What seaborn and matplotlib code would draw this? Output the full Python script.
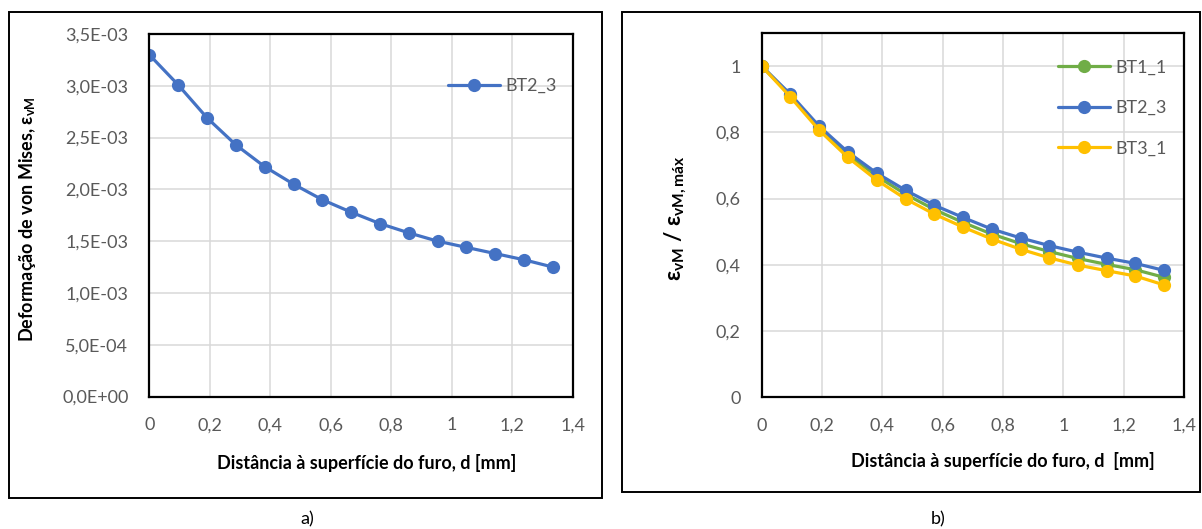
import matplotlib
matplotlib.use("Agg")
import matplotlib.pyplot as plt
import seaborn as sns
import pandas as pd
from matplotlib.patches import Rectangle
from matplotlib.ticker import FixedLocator, FixedFormatter

# ---------------- data ----------------
d_mm = [0.0, 0.095, 0.191, 0.286, 0.381, 0.477, 0.572, 0.667, 0.762,
        0.858, 0.953, 1.048, 1.144, 1.239, 1.334]

evm_bt2_3 = [3.30e-3, 3.01e-3, 2.69e-3, 2.43e-3, 2.22e-3, 2.05e-3, 1.90e-3,
             1.78e-3, 1.67e-3, 1.58e-3, 1.50e-3, 1.44e-3, 1.38e-3, 1.32e-3,
             1.25e-3]

norm_bt1_1 = [1.0, 0.912, 0.813, 0.733, 0.668, 0.613, 0.567, 0.528, 0.493,
              0.464, 0.440, 0.419, 0.401, 0.385, 0.362]
norm_bt2_3 = [1.0, 0.915, 0.818, 0.740, 0.677, 0.625, 0.580, 0.543, 0.508,
              0.481, 0.458, 0.438, 0.420, 0.404, 0.383]
norm_bt3_1 = [1.0, 0.907, 0.806, 0.724, 0.656, 0.599, 0.553, 0.514, 0.478,
              0.447, 0.421, 0.399, 0.382, 0.366, 0.339]

series_names = ["BT1_1", "BT2_3", "BT3_1"]
series_colors = ["#70AD47", "#4472C4", "#FFC000"]

x_ticks = [0, 0.2, 0.4, 0.6, 0.8, 1.0, 1.2, 1.4]
x_ticklabels = ["0", "0,2", "0,4", "0,6", "0,8", "1", "1,2", "1,4"]
ya_ticks = [0, 0.5e-3, 1.0e-3, 1.5e-3, 2.0e-3, 2.5e-3, 3.0e-3, 3.5e-3]
ya_ticklabels = ["0,0E+00", "5,0E-04", "1,0E-03", "1,5E-03", "2,0E-03",
                 "2,5E-03", "3,0E-03", "3,5E-03"]
yb_ticks = [0, 0.2, 0.4, 0.6, 0.8, 1.0]
yb_ticklabels = ["0", "0,2", "0,4", "0,6", "0,8", "1"]

# ---------------- style ----------------
sns.set_theme(style="white")
FONT = ["Lato", "DejaVu Sans"]
plt.rcParams["font.family"] = FONT
plt.rcParams["mathtext.fontset"] = "custom"
plt.rcParams["mathtext.rm"] = "Lato"
plt.rcParams["mathtext.bf"] = "Lato:bold"
plt.rcParams["mathtext.it"] = "Lato:italic"

TICK_COLOR = "#595959"
GRID_COLOR = "#D9D9D9"
TICK_FS = 13
LABEL_FS = 13

W, H = 1202, 529
fig = plt.figure(figsize=(W / 100, H / 100), dpi=100)


def px_axes(x0, x1, y0, y1):
    return fig.add_axes([x0 / W, 1 - y1 / H, (x1 - x0) / W, (y1 - y0) / H])


# outer panel frames
fig.patches.append(Rectangle((9 / W, 1 - 498 / H), 593 / W, 486 / H,
                             transform=fig.transFigure, fill=False,
                             edgecolor="black", linewidth=1.4))
fig.patches.append(Rectangle((622 / W, 1 - 492 / H), 578 / W, 480 / H,
                             transform=fig.transFigure, fill=False,
                             edgecolor="black", linewidth=1.4))

ax1 = px_axes(149.3, 572.7, 34, 396.5)
ax2 = px_axes(761.7, 1184, 33, 397.2)


def style_axes(ax, yticks, yticklabels, ylim):
    ax.set_xlim(0, 1.4)
    ax.set_ylim(*ylim)
    ax.xaxis.set_major_locator(FixedLocator(x_ticks))
    ax.xaxis.set_major_formatter(FixedFormatter(x_ticklabels))
    ax.yaxis.set_major_locator(FixedLocator(yticks))
    ax.yaxis.set_major_formatter(FixedFormatter(yticklabels))
    ax.grid(True, color=GRID_COLOR, linewidth=1.1)
    ax.set_axisbelow(True)
    for s in ax.spines.values():
        s.set_visible(True)
        s.set_color("black")
        s.set_linewidth(1.6)
    ax.tick_params(axis="both", length=0, pad=15, labelsize=TICK_FS,
                   labelcolor=TICK_COLOR)


MS = 9.5
LW = 2.3

# ---------------- panel a ----------------
df_a = pd.DataFrame({"d": d_mm, "v": evm_bt2_3, "serie": "BT2_3"})
sns.lineplot(data=df_a, x="d", y="v", hue="serie", palette=["#4472C4"],
             marker="o", markersize=MS, markeredgewidth=0, linewidth=LW,
             estimator=None, sort=False, ax=ax1)
style_axes(ax1, ya_ticks, ya_ticklabels, (0, 3.5e-3))
ax1.set_xlabel("Distância à superfície do furo, d [mm]", fontsize=LABEL_FS,
               fontweight="bold", color="black")
ax1.set_ylabel("Deformação de von Mises, ε$_{\\mathbf{vM}}$", fontsize=LABEL_FS,
               fontweight="bold", color="black")
ax1.xaxis.set_label_coords(0.514, -0.158)
ax1.yaxis.set_label_coords(-0.262, 0.49)
leg1 = ax1.legend(loc="center left", bbox_to_anchor=(0.7055, 0.8566),
                  frameon=False, fontsize=TICK_FS, handlelength=2.9,
                  handletextpad=0.3, borderpad=0, borderaxespad=0)
for t in leg1.get_texts():
    t.set_color(TICK_COLOR)

# ---------------- panel b ----------------
df_b = pd.concat([
    pd.DataFrame({"d": d_mm, "v": vals, "serie": name})
    for name, vals in zip(series_names, [norm_bt1_1, norm_bt2_3, norm_bt3_1])
], ignore_index=True)
sns.lineplot(data=df_b, x="d", y="v", hue="serie", hue_order=series_names,
             palette=series_colors, marker="o", markersize=MS,
             markeredgewidth=0, linewidth=LW, estimator=None, sort=False,
             ax=ax2)
style_axes(ax2, yb_ticks, yb_ticklabels, (0, 1.1))
ax2.set_xlabel("Distância à superfície do furo, d  [mm]", fontsize=LABEL_FS,
               fontweight="bold", color="black")
ax2.set_ylabel("ε$_{\\mathbf{vM}}$ / ε$_{\\mathbf{vM,máx}}$", fontsize=LABEL_FS + 3,
               fontweight="bold", color="black")
ax2.xaxis.set_label_coords(0.571, -0.15)
ax2.yaxis.set_label_coords(-0.175, 0.492)
leg2 = ax2.legend(loc="center left", bbox_to_anchor=(0.7016, 0.794),
                  frameon=False, fontsize=TICK_FS, handlelength=2.9,
                  handletextpad=0.3, borderpad=0, borderaxespad=0,
                  labelspacing=1.35)
for t in leg2.get_texts():
    t.set_color(TICK_COLOR)

# panel captions
fig.text(307 / W, 1 - 519 / H, "a)", ha="center", va="center", fontsize=13,
         color="black")
fig.text(938 / W, 1 - 519 / H, "b)", ha="center", va="center", fontsize=13,
         color="black")

fig.savefig("out.png", dpi=100)
